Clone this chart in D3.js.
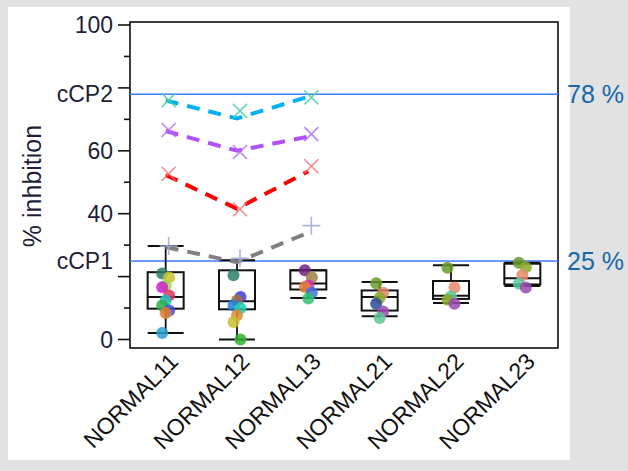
<!DOCTYPE html>
<html>
<head>
<meta charset="utf-8">
<script src="https://cdn.jsdelivr.net/npm/d3@7"></script>
<style>
  body { margin: 0; background: #e2e2e2; }
  svg { display: block; font-family: Arial, "Liberation Sans", sans-serif; }
</style>
</head>
<body>
<div class="chart"></div>
<script>
// groups on the x axis
const groups = ['NORMAL11', 'NORMAL12', 'NORMAL13', 'NORMAL21', 'NORMAL22', 'NORMAL23'];

// box plot stats
const whiskerLow  = [2.1, 0.0, 13.2, 7.4, 11.6, 17.0];
const q1          = [9.8, 9.6, 15.9, 9.2, 12.9, 17.5];
const median      = [13.5, 12.2, 17.8, 13.5, 13.9, 19.5];
const q3          = [21.4, 22.0, 22.0, 15.6, 18.6, 24.1];
const whiskerHigh = [29.7, 25.2, 22.0, 18.3, 23.6, 24.4];

// individual points per group
const pointValues = [
  [21.0, 19.7, 17.2, 16.6, 14.0, 12.4, 10.8, 9.2, 8.4, 2.1],
  [20.4, 13.5, 12.4, 10.8, 9.9, 7.7, 5.6, 0.0],
  [22.0, 19.8, 17.2, 16.7, 14.9, 13.0],
  [17.9, 14.9, 13.3, 11.4, 8.9, 6.8],
  [22.8, 16.5, 13.7, 12.6, 11.4],
  [24.4, 23.0, 20.4, 17.7, 16.5]
];
const pointColors = [
  ['#2e7d6b', '#c8c62a', '#8fe04a', '#d41fcf', '#e0305a', '#1fc2c2', '#2fb04a', '#3a4fe0', '#e07f2a', '#2aa0d0'],
  ['#2e7d6b', '#3a3ae0', '#a07040', '#2080e0', '#20d0b0', '#e08a30', '#c8c030', '#30b030'],
  ['#702080', '#a08040', '#d030c0', '#e08030', '#4070e0', '#30c070'],
  ['#6a9a2a', '#e8876a', '#8aaa2a', '#2a4a9a', '#9a4ab0', '#5ac890'],
  ['#6a9a2a', '#e8876a', '#5ac8a0', '#8aaa2a', '#9a4ab0'],
  ['#6a9a2a', '#8aaa2a', '#e8876a', '#5ac8a0', '#9a4ab0']
];

// control series on NORMAL11..13 (markers and dashed mean line)
const seriesGroups  = ['NORMAL11', 'NORMAL12', 'NORMAL13'];
const seriesMarkers = [[76.1, 72.7, 77.0], [66.6, 59.6, 65.3], [52.7, 41.4, 55.1], [29.7, 25.8, 36.2]];
const seriesLine    = [[76.0, 70.3, 77.2], [66.3, 60.0, 64.5], [52.3, 41.6, 53.5], [29.4, 24.6, 34.0]];
const seriesLineColor   = ['#00b0f0', '#b052f5', '#ff0000', '#808080'];
const seriesMarkerColor = ['#4fd3a0', '#b070f0', '#f07878', '#a0a8d8'];
const seriesShape       = ['x', 'x', 'x', '+'];

// reference lines
const refValues = [78, 25];
const refLabels = ['78 %', '25 %'];
const refAxisLabels = ['cCP2', 'cCP1'];

// y tick labels
const yLabelTicks = [0, 40, 60, 100];

const W = 628, H = 471;
const svg = d3.select('.chart').append('svg').attr('width', W).attr('height', H);

svg.append('rect').attr('width', W).attr('height', H).attr('fill', '#e2e2e2');
svg.append('rect').attr('x', 8).attr('y', 7).attr('width', 562).attr('height', 453).attr('fill', '#fff');

const plot = { left: 130, right: 558, top: 22, bottom: 348 };

const x = d3.scaleBand().domain(groups).range([plot.left, plot.right]);
const y = d3.scaleLinear().domain([0, 100]).range([339.5, 25]);
const cx = (g) => x(g) + x.bandwidth() / 2;
const boxW = 36;

// frame
svg.append('rect')
  .attr('x', plot.left).attr('y', plot.top)
  .attr('width', plot.right - plot.left).attr('height', plot.bottom - plot.top)
  .attr('fill', 'none').attr('stroke', '#111').attr('stroke-width', 1.6);

// y axis ticks
const yAxis = svg.append('g').attr('transform', `translate(${plot.left},0)`);
yAxis.selectAll('line.major')
  .data(d3.range(0, 101, 20))
  .join('line')
  .attr('x1', -12).attr('x2', 0)
  .attr('y1', (d) => y(d)).attr('y2', (d) => y(d))
  .attr('stroke', '#111').attr('stroke-width', 1.6);
yAxis.selectAll('line.minor')
  .data(d3.range(10, 100, 20))
  .join('line')
  .attr('x1', -6).attr('x2', 0)
  .attr('y1', (d) => y(d)).attr('y2', (d) => y(d))
  .attr('stroke', '#111').attr('stroke-width', 1.6);
yAxis.selectAll('text.num')
  .data(yLabelTicks)
  .join('text')
  .attr('x', -17).attr('y', (d) => y(d))
  .attr('dy', '0.35em').attr('text-anchor', 'end')
  .attr('font-size', 23).attr('fill', '#1e1e3a')
  .text((d) => d);
yAxis.selectAll('text.ref')
  .data(refValues)
  .join('text')
  .attr('x', -17).attr('y', (d) => y(d))
  .attr('dy', '0.35em').attr('text-anchor', 'end')
  .attr('font-size', 23).attr('fill', '#1e1e3a')
  .text((d, i) => refAxisLabels[i]);

// y title
svg.append('text')
  .attr('transform', 'translate(41,186) rotate(-90)')
  .attr('text-anchor', 'middle')
  .attr('font-size', 25).attr('fill', '#1e1e3a')
  .text('% inhbition');

// x labels
svg.selectAll('text.xl')
  .data(groups)
  .join('text')
  .attr('transform', (d) => `translate(${cx(d) + 14},363) rotate(-45)`)
  .attr('text-anchor', 'end')
  .attr('font-size', 23).attr('fill', '#111')
  .text((d) => d);

// reference lines
svg.selectAll('line.refl')
  .data(refValues)
  .join('line')
  .attr('x1', plot.left).attr('x2', plot.right)
  .attr('y1', (d) => y(d)).attr('y2', (d) => y(d))
  .attr('stroke', '#3d7bff').attr('stroke-width', 1.5);
svg.selectAll('text.refr')
  .data(refValues)
  .join('text')
  .attr('x', 567).attr('y', (d) => y(d))
  .attr('dy', '0.35em')
  .attr('font-size', 25).attr('fill', '#1767a9')
  .text((d, i) => refLabels[i]);

// boxes
const boxes = svg.selectAll('g.box')
  .data(groups)
  .join('g')
  .attr('transform', (d) => `translate(${cx(d)},0)`);
boxes.append('line')
  .attr('y1', (d, i) => y(whiskerLow[i])).attr('y2', (d, i) => y(whiskerHigh[i]))
  .attr('stroke', '#111').attr('stroke-width', 1.8);
boxes.append('rect')
  .attr('x', -boxW / 2).attr('width', boxW)
  .attr('y', (d, i) => y(q3[i])).attr('height', (d, i) => y(q1[i]) - y(q3[i]))
  .attr('fill', '#fff').attr('stroke', '#111').attr('stroke-width', 2);
boxes.append('line')
  .attr('x1', -boxW / 2).attr('x2', boxW / 2)
  .attr('y1', (d, i) => y(median[i])).attr('y2', (d, i) => y(median[i]))
  .attr('stroke', '#111').attr('stroke-width', 2);
[whiskerLow, whiskerHigh].forEach((arr) => {
  boxes.append('line')
    .attr('x1', -boxW / 2).attr('x2', boxW / 2)
    .attr('y1', (d, i) => y(arr[i])).attr('y2', (d, i) => y(arr[i]))
    .attr('stroke', '#111').attr('stroke-width', 2);
});

// points
boxes.each(function (g, gi) {
  d3.select(this).selectAll('circle')
    .data(pointValues[gi])
    .join('circle')
    .attr('cx', (d, i) => ((i * 5) % 3 - 1) * 3.5)
    .attr('cy', (d) => y(d))
    .attr('r', 6)
    .attr('fill', (d, i) => pointColors[gi][i])
    .attr('opacity', 0.85);
});

// dashed series lines
const line = d3.line().x((d, i) => cx(seriesGroups[i])).y((d) => y(d));
svg.selectAll('path.series')
  .data(seriesLine)
  .join('path')
  .attr('d', line)
  .attr('fill', 'none')
  .attr('stroke', (d, i) => seriesLineColor[i])
  .attr('stroke-width', 4)
  .attr('stroke-dasharray', '13,9');

// markers
const m = 7;
seriesMarkers.forEach((vals, si) => {
  const g = svg.append('g')
    .attr('stroke', seriesMarkerColor[si]).attr('stroke-width', 1.6).attr('opacity', 0.85);
  vals.forEach((v, i) => {
    const px = cx(seriesGroups[i]) + 3, py = y(v);
    if (seriesShape[si] === 'x') {
      g.append('path').attr('d', `M${px - m},${py - m}L${px + m},${py + m}M${px - m},${py + m}L${px + m},${py - m}`);
    } else {
      g.append('path').attr('d', `M${px - m - 2},${py}L${px + m + 2},${py}M${px},${py - m - 2}L${px},${py + m + 2}`);
    }
  });
});
</script>
</body>
</html>
